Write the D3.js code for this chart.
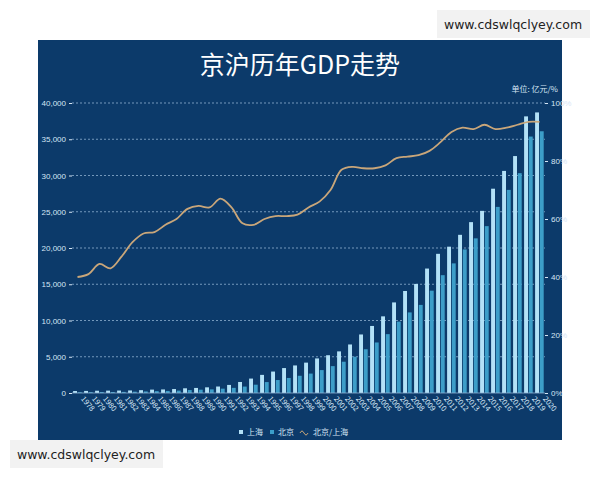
<!DOCTYPE html><html><head><meta charset="utf-8">
<script src="https://cdn.jsdelivr.net/npm/d3@7"></script>
<style>body{margin:0;background:#fff;font-family:"Noto Sans CJK SC","Noto Sans",sans-serif}</style></head><body>
<svg id="c" width="600" height="480"></svg>
<script>
const years=d3.range(1978,2021).map(String);
const shanghai=[273,286,312,325,337,352,391,467,491,546,649,697,782,894,1114,1520,1991,2499,2958,3438,3801,4189,4771,5210,5741,6694,8073,9248,10572,12494,14070,15046,17166,19196,20182,21818,23568,25123,28179,30633,32680,38155,38701];
const beijing=[109,120,139,139,154,183,217,257,285,327,410,456,501,599,709,887,1146,1508,1789,2076,2377,2679,3161,3708,4315,5007,6033,6970,8118,9847,11115,12153,14114,16252,17879,19801,21331,23015,25669,28015,30320,35371,36103];
const ratio=[40,41,44.5,43,47,52,55,55.5,58,60,63.5,64.5,64,67,64,58.5,58,60,61,61,61.5,64,66,70,77,78,77.5,77.5,78.5,81,81.5,82,83.5,86.5,90,91.5,91,92.5,91,91.5,92.5,93.5,93.5];
const leftTicks=d3.range(0,40001,5000);
const rightTicks=[0,20,40,60,80,100];

const svg=d3.select("#c");
svg.append("rect").attr("x",38).attr("y",40).attr("width",524).attr("height",400).attr("fill","#0c3a6a");
svg.append("text").attr("x",300).attr("y",74).attr("text-anchor","middle").attr("fill","#fff").attr("font-size",25).text("京沪历年GDP走势");
const x=d3.scaleBand().domain(years).range([72,545]).paddingInner(0.2).paddingOuter(0.1);
const y=d3.scaleLinear().domain([0,40000]).range([393,103]);
const y2=d3.scaleLinear().domain([0,100]).range([393,103]);
const tc="#d6e6f5";
svg.append("g").selectAll("line").data(leftTicks.slice(1)).join("line")
 .attr("x1",72).attr("x2",545).attr("y1",d=>y(d)).attr("y2",d=>y(d))
 .attr("stroke","#8fb0d0").attr("stroke-dasharray","2,2").attr("stroke-width",0.8);
const gl=svg.append("g").attr("transform","translate(72,0)").call(d3.axisLeft(y).tickValues(leftTicks).tickSize(3));
gl.select(".domain").remove();
gl.selectAll("line").attr("stroke",tc);
gl.selectAll("text").attr("fill",tc).attr("font-size",8);
const gr=svg.append("g").attr("transform","translate(545,0)").call(d3.axisRight(y2).tickValues(rightTicks).tickFormat(d=>d+"%").tickSize(3));
gr.select(".domain").remove();
gr.selectAll("line").attr("stroke",tc);
gr.selectAll("text").attr("fill",tc).attr("font-size",8);
const bw=x.bandwidth()/2;
svg.append("g").selectAll("rect").data(shanghai).join("rect")
 .attr("x",(d,i)=>x(years[i])).attr("width",bw-0.5).attr("y",d=>y(d)).attr("height",d=>393-y(d)).attr("fill","#b3e1f7");
svg.append("g").selectAll("rect").data(beijing).join("rect")
 .attr("x",(d,i)=>x(years[i])+bw+0.3).attr("width",bw-0.5).attr("y",d=>y(d)).attr("height",d=>393-y(d)).attr("fill","#3c9ec9");
svg.append("line").attr("x1",72).attr("x2",545).attr("y1",393).attr("y2",393).attr("stroke","#8fb0d0").attr("stroke-width",0.8);
const ln=d3.line().x((d,i)=>x(years[i])+x.bandwidth()/2).y(d=>y2(d)).curve(d3.curveCatmullRom);
svg.append("path").datum(ratio).attr("d",ln).attr("fill","none").attr("stroke","#c9a67a").attr("stroke-width",1.8);
svg.append("g").selectAll("text").data(years).join("text")
 .attr("transform",d=>`translate(${x(d)+x.bandwidth()/2+3},${399}) rotate(50)`)
 .attr("fill",tc).attr("font-size",7.5).text(d=>d);
svg.append("text").attr("x",558).attr("y",92).attr("text-anchor","end").attr("fill",tc).attr("font-size",8).text("单位: 亿元/%");
const lg=svg.append("g").attr("font-size",8).attr("fill",tc);
lg.append("rect").attr("x",239).attr("y",430).attr("width",4).attr("height",4).attr("fill","#b3e1f7");
lg.append("text").attr("x",247).attr("y",435).text("上海");
lg.append("rect").attr("x",270).attr("y",430).attr("width",4).attr("height",4).attr("fill","#3c9ec9");
lg.append("text").attr("x",278).attr("y",435).text("北京");
lg.append("path").attr("d","M300,433 q2,-4 4,0 q2,4 4,0").attr("stroke","#c9a67a").attr("fill","none");
lg.append("text").attr("x",313).attr("y",435).text("北京/上海");
[[437,10],[10,440]].forEach(([bx,by])=>{
 svg.append("rect").attr("x",bx).attr("y",by).attr("width",153).attr("height",28).attr("fill","#f2f2f2");
 svg.append("text").attr("x",bx+76).attr("y",by+19).attr("text-anchor","middle").attr("font-size",12.5).attr("font-family","DejaVu Sans").attr("fill","#222").text("www.cdswlqclyey.com");
});
</script></body></html>
